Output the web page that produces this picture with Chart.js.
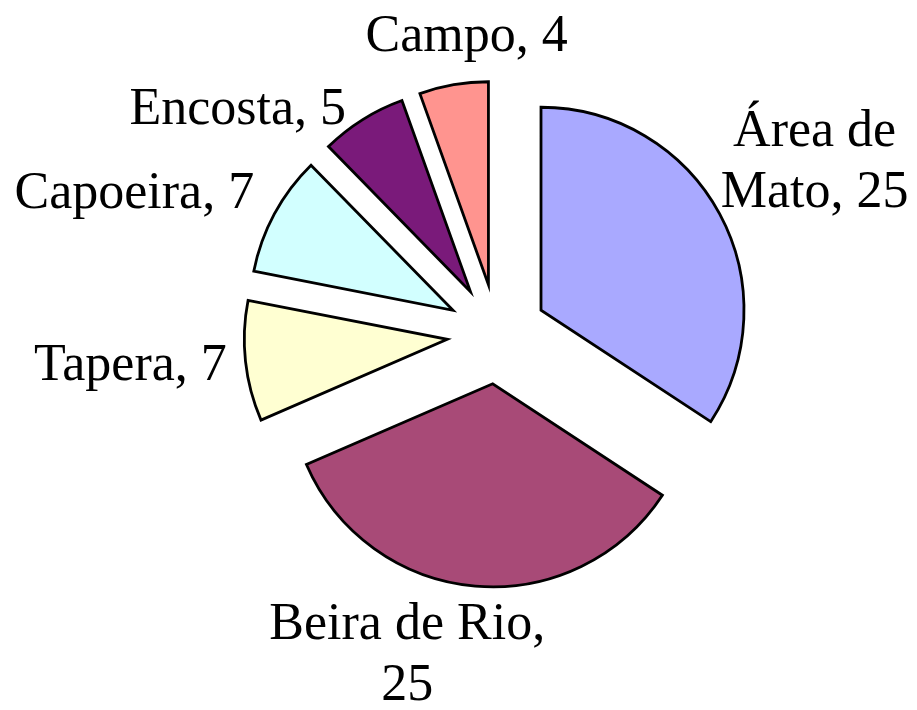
<!DOCTYPE html>
<html>
<head>
<meta charset="utf-8">
<script src="https://cdn.jsdelivr.net/npm/chart.js@4.4.1/dist/chart.umd.min.js"></script>
<style>
  html, body { margin: 0; padding: 0; background: #fff; }
  #wrap { width: 917px; height: 710px; position: relative; }
</style>
</head>
<body>
<div id="wrap"><canvas id="pie"></canvas></div>
<script>
// data
const categories = ['Área de Mato', 'Beira de Rio', 'Tapera', 'Capoeira', 'Encosta', 'Campo'];
const counts = [25, 25, 7, 7, 5, 4];
const sliceColors = ['#a9a9ff', '#a84a77', '#ffffd2', '#d2ffff', '#7a1a7a', '#ff948f'];

// layout
const EXPLODE = 50;       // px each slice is pulled out
const LABEL_FONT = '52px "Liberation Serif", "Times New Roman", serif';
const LABEL_MAX_W = 292;  // wrap width for labels
const LINE_H = 61;
// label block nudge from the slice's outer point: [dx to centre, dy to first baseline]
const labelShift = [[95, -68], [-68, 53], [-115, 19], [-140, -6], [-125, 4], [13, -34]];

function wrapText(ctx, text, maxW) {
    const words = text.split(' ');
    const lines = [];
    let cur = '';
    for (const w of words) {
        const test = cur ? cur + ' ' + w : w;
        if (cur && ctx.measureText(test).width > maxW) {
            lines.push(cur);
            cur = w;
        } else {
            cur = test;
        }
    }
    if (cur) lines.push(cur);
    return lines;
}

// draw each arc translated along its mid angle (plain exploded pie, same radius for all)
const explodePlugin = {
    id: 'explode',
    beforeDatasetDraw(chart, args) {
        const ctx = chart.ctx;
        args.meta.data.forEach(arc => {
            const mid = (arc.startAngle + arc.endAngle) / 2;
            ctx.save();
            ctx.translate(Math.cos(mid) * EXPLODE, Math.sin(mid) * EXPLODE);
            arc.draw(ctx);
            ctx.restore();
        });
        return false;
    }
};

const labelPlugin = {
    id: 'sliceLabels',
    afterDatasetsDraw(chart) {
        const ctx = chart.ctx;
        const meta = chart.getDatasetMeta(0);
        ctx.save();
        ctx.font = LABEL_FONT;
        ctx.fillStyle = '#000';
        ctx.textAlign = 'center';
        ctx.textBaseline = 'alphabetic';
        meta.data.forEach((arc, i) => {
            const mid = (arc.startAngle + arc.endAngle) / 2;
            const r = arc.outerRadius + EXPLODE;
            const ox = arc.x + Math.cos(mid) * r;
            const oy = arc.y + Math.sin(mid) * r;
            const lines = wrapText(ctx, categories[i] + ', ' + counts[i], LABEL_MAX_W);
            lines.forEach((ln, k) => {
                ctx.fillText(ln, ox + labelShift[i][0], oy + labelShift[i][1] + k * LINE_H);
            });
        });
        ctx.restore();
    }
};

new Chart(document.getElementById('pie'), {
    type: 'pie',
    data: {
        labels: categories,
        datasets: [{
            data: counts,
            backgroundColor: sliceColors,
            borderColor: '#000',
            borderWidth: 2.8,
            borderJoinStyle: 'miter'
        }]
    },
    options: {
        responsive: true,
        maintainAspectRatio: false,
        animation: false,
        radius: 203,
        layout: { padding: { left: 77, right: 0, top: 0, bottom: 42 } },
        plugins: {
            legend: { display: false },
            tooltip: { enabled: false }
        }
    },
    plugins: [explodePlugin, labelPlugin]
});
</script>
</body>
</html>
